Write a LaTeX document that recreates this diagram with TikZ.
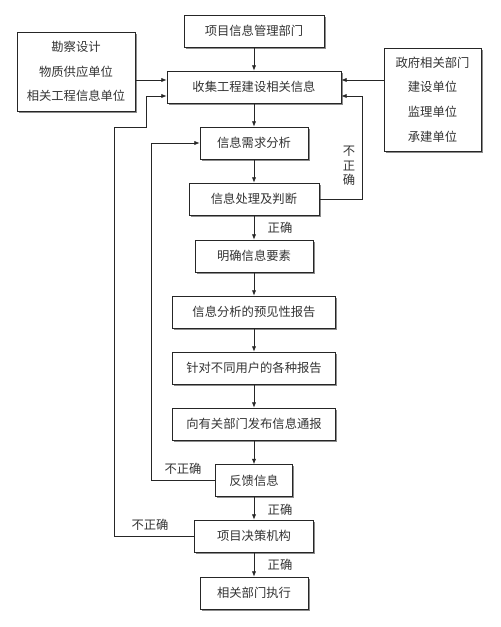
\documentclass[tikz,border=0pt]{standalone}
\usepackage{fontspec}
\newfontfamily\cjk{Noto Sans CJK SC}
\usetikzlibrary{arrows.meta,shadows}
\begin{document}
\begin{tikzpicture}[x=0.03cm,y=-0.03cm,
  font=\cjk\fontsize{10.5}{21}\selectfont,
  box/.style={draw=black!85,fill=white,line width=0.6pt,inner sep=0pt,
    minimum height=0.96cm,text=black!80,
    drop shadow={shadow xshift=0.055cm,shadow yshift=-0.055cm,fill=black!45,opacity=1}},
  link/.style={draw=black!85,line width=0.6pt,-{Latex[length=4.5pt,width=3.6pt]}},
  lab/.style={text=black!80,inner sep=0pt}]
\useasboundingbox (0,0) rectangle (500,627);
\def\cx{254}
% main column
\foreach \n/\cy/\w/\t in {top/31/140/项目信息管理部门,collect/87/174/收集工程建设相关信息,
  need/143/108/信息需求分析,proc/199/130/信息处理及判断,elem/256/118/明确信息要素,
  fore/312/163/信息分析的预见性报告,rep/368/163/针对不同用户的各种报告,
  pub/424/163/向有关部门发布信息通报,fb/480.5/77/反馈信息,dec/536/119/项目决策机构,
  exec/593/108/相关部门执行}
  \node[box,minimum width=\w*0.03cm] (\n) at (\cx,\cy) {\t};
% side sources
\node[box,align=center,minimum width=118*0.03cm,minimum height=79*0.03cm] (src) at (76,71.5)
  {勘察设计\\物质供应单位\\相关工程信息单位};
\node[box,align=center,minimum width=97*0.03cm,minimum height=103*0.03cm] (gov) at (432.5,99.5)
  {政府相关部门\\建设单位\\监理单位\\承建单位};
% straight flow
\foreach \a/\b in {top/collect,collect/need,need/proc,proc/elem,elem/fore,fore/rep,
  rep/pub,pub/fb,fb/dec,dec/exec}
  \draw[link] (\a) -- (\b);
\draw[link] (src.east |- 0,80) -- (collect.west |- 0,80);
\draw[link] (gov.west |- 0,80) -- (collect.east |- 0,80);
% feedback loops
\draw[link] (proc.east) -| (362,96) -- (collect.east |- 0,96);
\draw[link] (fb.west) -| (151,143) -- (need.west);
\draw[link] (dec.west) -| (114,127) -| (146,96) -- (collect.west |- 0,96);
% labels
\node[lab,align=center,font=\cjk\fontsize{10.5}{12.5}\selectfont] (ng1) at (349,166) {不\\正\\确};
\node[lab] (ng2) at (183,469) {不正确};
\node[lab] (ng3) at (150,525) {不正确};
\foreach \y in {228,510,565}
  \node[lab] at (280,\y) {正确};
\end{tikzpicture}
\end{document}
